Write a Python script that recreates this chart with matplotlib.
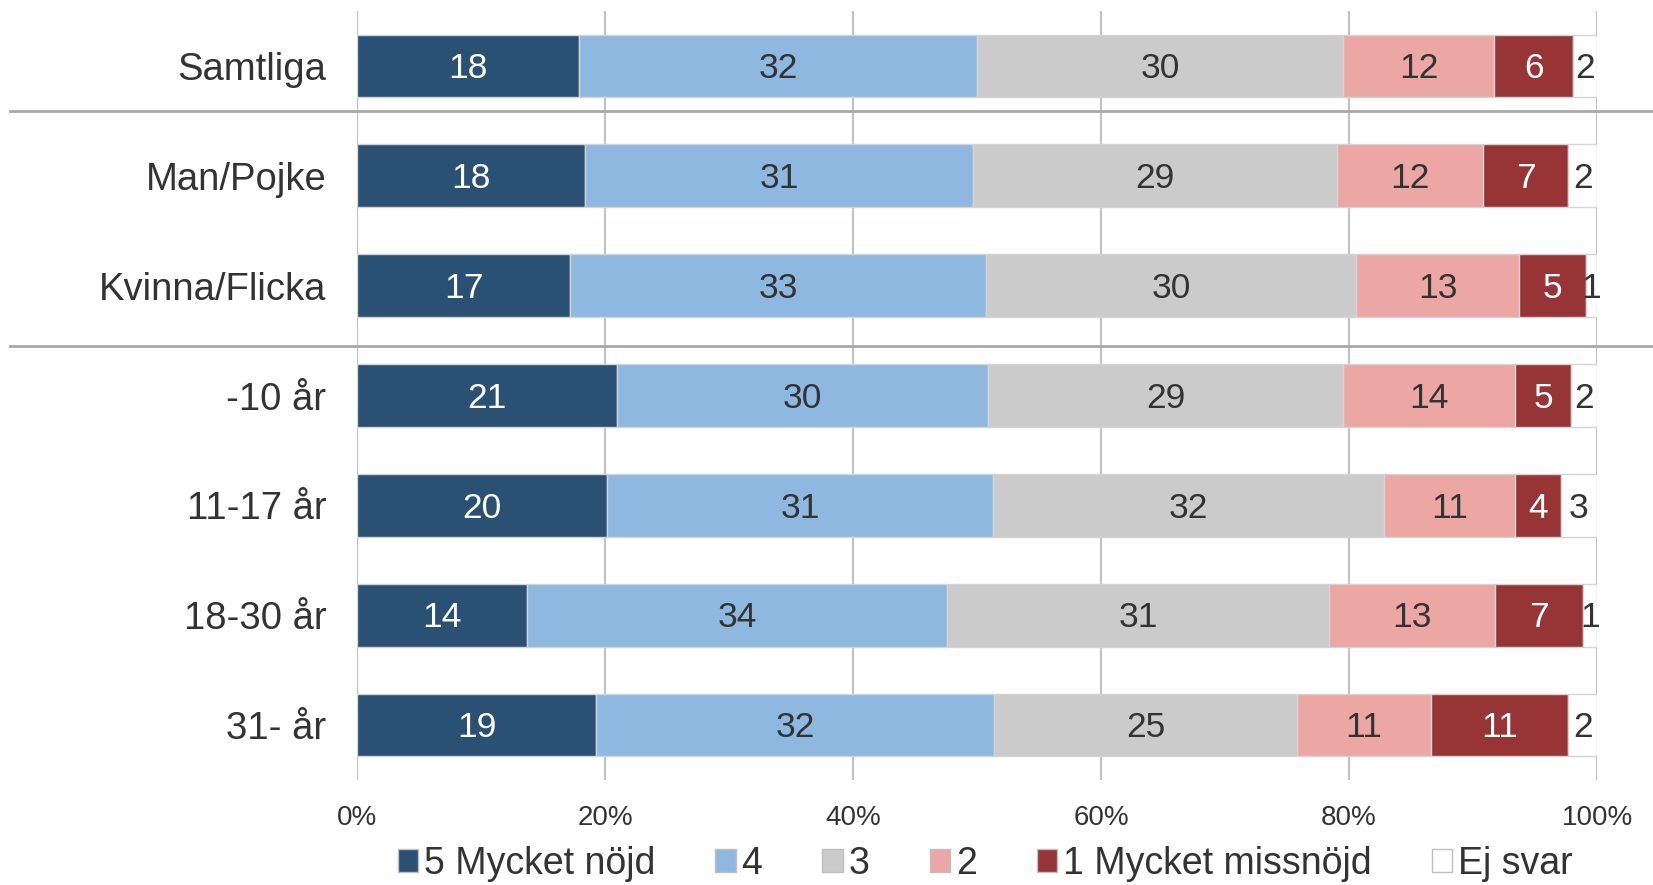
import matplotlib
matplotlib.use("Agg")
import matplotlib.pyplot as plt
import matplotlib.transforms as mtransforms
from matplotlib.patches import Patch

categories = ["Samtliga", "Man/Pojke", "Kvinna/Flicka", "-10 år", "11-17 år", "18-30 år", "31- år"]
series_names = ["5 Mycket nöjd", "4", "3", "2", "1 Mycket missnöjd", "Ej svar"]

# segment widths (percent)
v5 = [17.9, 18.4, 17.2, 21.0, 20.2, 13.7, 19.3]
v4 = [32.1, 31.3, 33.5, 29.9, 31.1, 33.9, 32.1]
v3 = [29.5, 29.3, 29.9, 28.6, 31.5, 30.8, 24.4]
v2 = [12.2, 11.8, 13.1, 13.9, 10.6, 13.4, 10.8]
v1 = [6.4, 6.9, 5.4, 4.5, 3.7, 7.1, 11.1]
v0 = [1.9, 2.3, 0.9, 2.1, 2.9, 1.1, 2.3]

# labels as printed on the chart
l5 = [18, 18, 17, 21, 20, 14, 19]
l4 = [32, 31, 33, 30, 31, 34, 32]
l3 = [30, 29, 30, 29, 32, 31, 25]
l2 = [12, 12, 13, 14, 11, 13, 11]
l1 = [6, 7, 5, 5, 4, 7, 11]
l0 = [2, 2, 1, 2, 3, 1, 2]

xticks = [0, 20, 40, 60, 80, 100]
xticklabels = ["0%", "20%", "40%", "60%", "80%", "100%"]

colors = ["#2a5074", "#8fb8e1", "#cbcbcb", "#eca6a4", "#973435", "#ffffff"]
text_colors = ["white", "#333333", "#333333", "#333333", "white", "#333333"]

narrow = ["Liberation Sans Narrow", "Liberation Sans", "DejaVu Sans"]
regular = ["Liberation Sans", "DejaVu Sans"]

W, H = 1653, 885
fig = plt.figure(figsize=(W / 100, H / 100), dpi=100)
ax = fig.add_axes([357 / W, 1 - 780 / H, 1240 / W, (780 - 11) / H])

values = [v5, v4, v3, v2, v1, v0]
labels = [l5, l4, l3, l2, l1, l0]
ypos = list(range(len(categories)))
left = [0.0] * len(categories)
for vals, labs, col, tcol in zip(values, labels, colors, text_colors):
    ax.barh(ypos, vals, left=left, height=0.57, color=col,
            edgecolor="#d4d4d4", linewidth=1.0, zorder=2)
    for y, l0_, v, lab in zip(ypos, left, vals, labs):
        ax.text(l0_ + v / 2, y + 0.025, str(lab), ha="center", va="center",
                color=tcol, fontsize=25.5, family=regular, zorder=4)
    left = [a + b for a, b in zip(left, vals)]

ax.set_xlim(0, 100)
ax.set_ylim(6.5, -0.5)
ax.set_xticks(xticks)
ax.set_xticklabels(xticklabels, fontsize=20, family=narrow, color="#333333")
ax.set_yticks(ypos)
ax.set_yticklabels(categories, fontsize=27.5, family=narrow, color="#333333")
ax.tick_params(axis="both", length=0)
ax.tick_params(axis="x", pad=18)
ax.tick_params(axis="y", pad=22)
ax.grid(axis="x", color="#c3c3c3", linewidth=1.6, zorder=0)
ax.set_axisbelow(True)
for s in ax.spines.values():
    s.set_visible(False)

# group separators
trans = mtransforms.blended_transform_factory(fig.transFigure, ax.transData)
for ysep in [0.41, 2.55]:
    ax.plot([10 / W, 1.0], [ysep, ysep], transform=trans, color="#a8a8a8",
            linewidth=2.0, clip_on=False, zorder=3)

handles = [Patch(facecolor=c, edgecolor="#bfbfbf", linewidth=1.0) for c in colors]
leg = fig.legend(handles, series_names, loc="center", bbox_to_anchor=(985 / W, 1 - 864 / H),
                 ncol=6, frameon=False, handlelength=0.55, handleheight=0.55,
                 handletextpad=0.15, columnspacing=1.6,
                 prop={"family": narrow, "size": 27})
for t in leg.get_texts():
    t.set_color("#333333")

fig.savefig("out.png", dpi=100, facecolor="white")
